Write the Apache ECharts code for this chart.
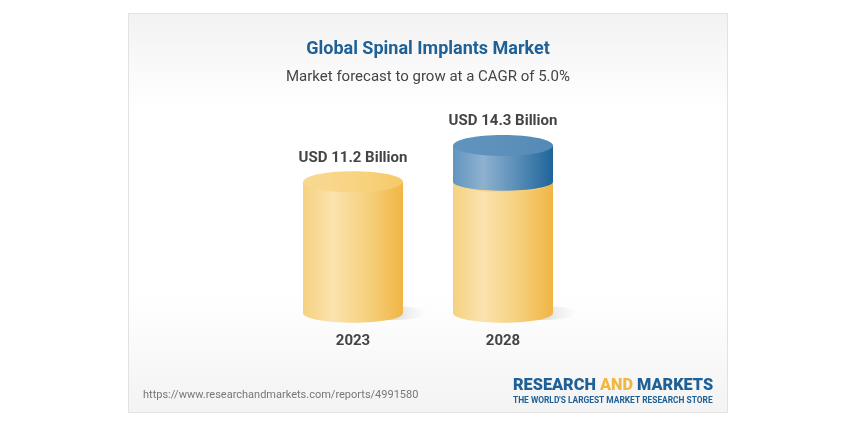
<!DOCTYPE html>
<html>
<head>
<meta charset="utf-8">
<style>html,body{margin:0;padding:0;background:#fff}#c{width:855px;height:427px}</style>
<script src="https://cdn.jsdelivr.net/npm/echarts@6/dist/echarts.min.js"></script>
</head>
<body>
<div id="c"></div>
<script>
const categories = ['2023', '2028'];
const baseValues = [11.2, 11.2];
const growthTops = [null, 14.3];
const marketLabels = ['USD 11.2 Billion', 'USD 14.3 Billion'];
const chartTitle = 'Global Spinal Implants Market';
const chartSubtitle = 'Market forecast to grow at a CAGR of 5.0%';
const sourceUrl = 'https://www.researchandmarkets.com/reports/4991580';

const FONT = 'Roboto, sans-serif';
const W = 100, RY = 10.5, RY_BASE = 9.8, RY_BLUE_BOTTOM = 9;
const grad = (stops) => ({type:'linear',x:0,y:0,x2:1,y2:0,colorStops:stops});
const yellowBody = grad([{offset:0,color:'#f5d281'},{offset:.3,color:'#fbe2ae'},{offset:.65,color:'#f6d07e'},{offset:1,color:'#f0b544'}]);
const yellowTop = grad([{offset:0,color:'#f8d993'},{offset:.5,color:'#f8d483'},{offset:1,color:'#f5c968'}]);
const blueBody = grad([{offset:0,color:'#6195bf'},{offset:.3,color:'#8fb1cf'},{offset:.62,color:'#5c90ba'},{offset:1,color:'#1f6499'}]);
const blueTop = grad([{offset:0,color:'#6094be'},{offset:.5,color:'#5d91bb'},{offset:1,color:'#5289b5'}]);

function cylinder(x, yTop, yBottom, body, topColor, ryBottom) {
  return [
    {type:'ellipse',shape:{cx:x,cy:yBottom,rx:W/2,ry:ryBottom},style:{fill:body}},
    {type:'rect',shape:{x:x-W/2,y:yTop,width:W,height:yBottom-yTop},style:{fill:body}},
    {type:'ellipse',shape:{cx:x,cy:yTop,rx:W/2,ry:RY},style:{fill:topColor}}
  ];
}
function labelText(x, y, i) {
  return {type:'text',style:{x:x,y:y-RY-13.3,text:marketLabels[i],fill:'#444',font:'700 15px '+FONT,align:'center',verticalAlign:'middle'}};
}

const option = {
  animation:false,
  graphic:[
    {type:'rect',z:-10,shape:{x:128.5,y:13.5,width:599,height:399},
     style:{stroke:'#e2e2e2',lineWidth:1,fill:{type:'linear',x:0,y:0,x2:0,y2:1,colorStops:[
       {offset:0,color:'#f2f2f2'},{offset:.24,color:'#ffffff'},{offset:.7,color:'#ffffff'},{offset:1,color:'#f3f3f3'}]}}},
    {type:'text',z:5,style:{x:428,y:49,text:chartTitle,fill:'#1f6196',font:'700 18px '+FONT,align:'center',verticalAlign:'middle'}},
    {type:'text',z:5,style:{x:428,y:77,text:chartSubtitle,fill:'#444',font:'400 15px '+FONT,align:'center',verticalAlign:'middle'}},
    {type:'text',z:5,style:{x:143,y:395,text:sourceUrl,fill:'#777',font:'400 11px '+FONT,align:'left',verticalAlign:'middle'}},
    {type:'text',z:5,style:{x:513,y:386,text:'{a|RESEARCH }{b|AND }{a|MARKETS}',align:'left',verticalAlign:'middle',
      rich:{a:{fill:'#1f6196',font:'900 16.3px '+FONT},b:{fill:'#f0b840',font:'900 16.3px '+FONT}}}},
    {type:'text',z:5,style:{x:513,y:401,text:"THE WORLD'S LARGEST MARKET RESEARCH STORE",fill:'#1f6196',font:'700 8.4px '+FONT,align:'left',verticalAlign:'middle'}}
  ],
  grid:{left:278,width:300,top:67,height:246},
  xAxis:{type:'category',data:categories,axisLine:{show:false},axisTick:{show:false},
    axisLabel:{color:'#444',fontFamily:'Roboto',fontWeight:700,fontSize:15,margin:21}},
  yAxis:{type:'value',min:0,max:21,show:false},
  series:[
    {type:'custom',z:2,coordinateSystem:'cartesian2d',data:baseValues.map((v,i)=>[i,v]),
     renderItem(params,api){
       const i=api.value(0), p=api.coord([i,api.value(1)]), b=api.coord([i,0]);
       const children=[
         {type:'ellipse',shape:{cx:b[0]+35,cy:b[1],rx:40,ry:7},
          style:{fill:{type:'linear',x:0,y:0,x2:1,y2:0,colorStops:[{offset:0,color:'rgba(170,170,170,.6)'},{offset:.5,color:'rgba(180,180,180,.55)'},{offset:1,color:'rgba(220,220,220,0)'}]}}},
         ...cylinder(b[0],p[1],b[1],yellowBody,yellowTop,RY_BASE)
       ];
       if (growthTops[i]==null) children.push(labelText(p[0],p[1],i));
       return {type:'group',children};
     }},
    {type:'custom',z:3,coordinateSystem:'cartesian2d',data:growthTops.map((v,i)=>[i,v,baseValues[i]]),
     renderItem(params,api){
       const v=api.value(1);
       if (isNaN(v)) return null;
       const i=api.value(0), p=api.coord([i,v]), b=api.coord([i,api.value(2)]);
       return {type:'group',children:[...cylinder(p[0],p[1],b[1],blueBody,blueTop,RY_BLUE_BOTTOM),labelText(p[0],p[1],i)]};
     }}
  ]
};
echarts.init(document.getElementById('c'),null,{renderer:'canvas'}).setOption(option);
</script>
</body>
</html>
